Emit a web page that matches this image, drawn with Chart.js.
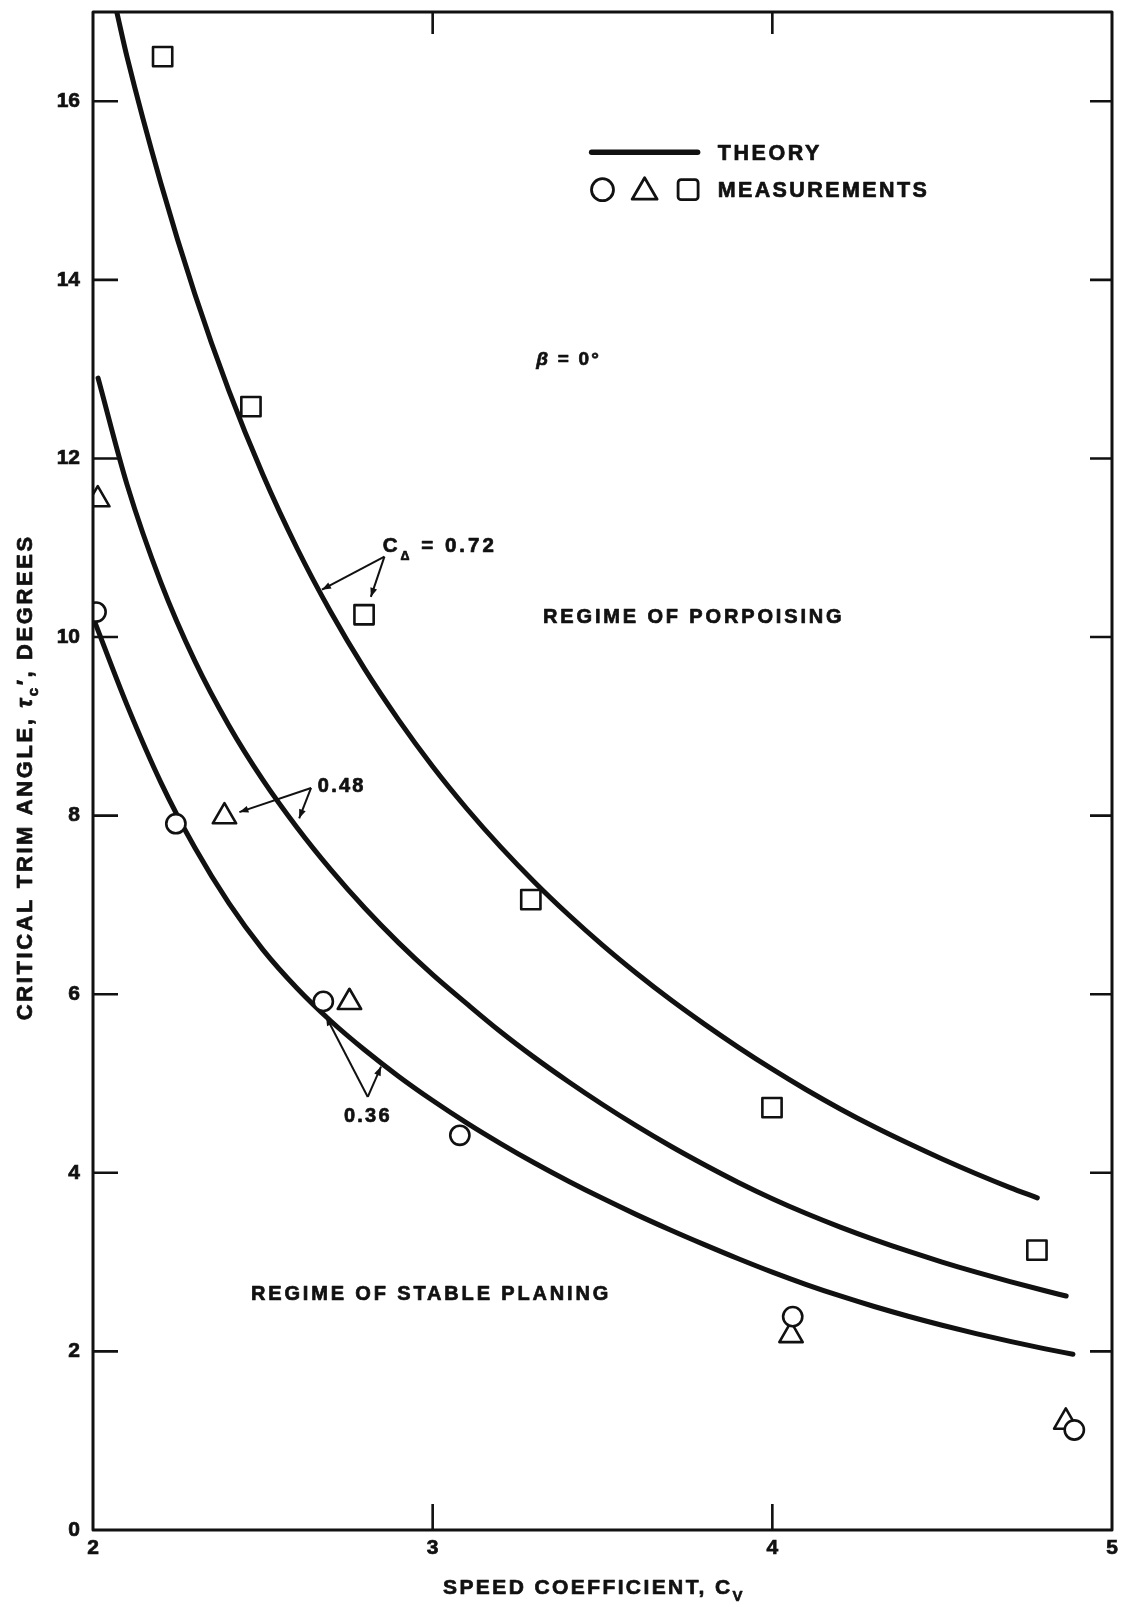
<!DOCTYPE html>
<html>
<head>
<meta charset="utf-8">
<script src="https://cdn.jsdelivr.net/npm/chart.js@4.4.1/dist/chart.umd.min.js"></script>
<style>
  html, body { margin: 0; padding: 0; background: #ffffff; }
  canvas { display: block; }
</style>
</head>
<body>
<canvas id="trimChart" width="1123" height="1607"></canvas>
<script>
// ---- Theory curves: critical trim angle (deg) against speed coefficient C_V ----
const cvTheory072 = [2.07, 2.1, 2.2, 2.3, 2.4, 2.5, 2.6, 2.7, 2.8, 2.9, 3.0, 3.1, 3.2, 3.3, 3.4, 3.5, 3.6, 3.7, 3.8, 3.9, 4.0, 4.1, 4.2, 4.3, 4.4, 4.5, 4.6, 4.7, 4.78];
const tauTheory072 = [17.0, 16.5, 15.08, 13.84, 12.76, 11.82, 11.0, 10.28, 9.64, 9.07, 8.55, 8.08, 7.65, 7.255, 6.89, 6.55, 6.235, 5.94, 5.665, 5.405, 5.16, 4.93, 4.715, 4.515, 4.33, 4.155, 3.99, 3.835, 3.72];

const cvTheory048 = [2.015, 2.1, 2.2, 2.3, 2.4, 2.5, 2.6, 2.7, 2.8, 2.9, 3.0, 3.1, 3.2, 3.3, 3.4, 3.5, 3.6, 3.7, 3.8, 3.9, 4.0, 4.1, 4.2, 4.3, 4.4, 4.5, 4.6, 4.7, 4.8, 4.865];
const tauTheory048 = [12.9, 11.71, 10.61, 9.73, 9.01, 8.4, 7.87, 7.395, 6.965, 6.575, 6.22, 5.895, 5.58, 5.29, 5.02, 4.765, 4.525, 4.3, 4.09, 3.892, 3.71, 3.544, 3.392, 3.252, 3.122, 3.001, 2.888, 2.782, 2.682, 2.62];

const cvTheory036 = [2.0, 2.1, 2.2, 2.3, 2.4, 2.5, 2.6, 2.7, 2.8, 2.9, 3.0, 3.1, 3.2, 3.3, 3.4, 3.5, 3.6, 3.7, 3.8, 3.9, 4.0, 4.1, 4.2, 4.3, 4.4, 4.5, 4.6, 4.7, 4.8, 4.885];
const tauTheory036 = [10.22, 9.24, 8.37, 7.64, 7.02, 6.5, 6.07, 5.7, 5.375, 5.08, 4.81, 4.56, 4.328, 4.11, 3.906, 3.714, 3.532, 3.36, 3.196, 3.038, 2.888, 2.749, 2.621, 2.503, 2.394, 2.293, 2.199, 2.112, 2.031, 1.968];

// ---- Measurements ----
// squares: C_delta = 0.72
const cvSquares = [2.205, 2.465, 2.798, 3.289, 3.999, 4.779];
const tauSquares = [16.5, 12.58, 10.25, 7.06, 4.73, 3.135];
// triangles: C_delta = 0.48
const cvTriangles = [2.014, 2.387, 2.755, 4.055, 4.864];
const tauTriangles = [11.54, 7.99, 5.91, 2.18, 1.21];
// circles: C_delta = 0.36
const cvCircles = [2.009, 2.244, 2.678, 3.08, 4.06, 4.889];
const tauCircles = [10.28, 7.91, 5.92, 4.42, 2.39, 1.12];

// ---- Axes ----
const cvRange = [2, 5];
const tauRange = [0, 17];
const cvStep = 1;
const tauStep = 2;

const INK = '#111111';
const FACE = '"Liberation Sans", Arial, Helvetica, sans-serif';

const toXY = (xs, ys) => xs.map((v, i) => ({ x: v, y: ys[i] }));

function theory(xs, ys) {
  return {
    data: toXY(xs, ys),
    showLine: true,
    borderColor: INK,
    borderWidth: 5,
    borderCapStyle: 'round',
    cubicInterpolationMode: 'monotone',
    pointRadius: 0,
    order: 5
  };
}

function measured(xs, ys, style, radius, order) {
  return {
    data: toXY(xs, ys),
    showLine: false,
    pointStyle: style,
    pointRadius: radius,
    pointBorderWidth: 2.6,
    pointBorderColor: INK,
    pointBackgroundColor: '#ffffff',
    order: order
  };
}

// ---- Text helpers ----
function drawParts(ctx, parts, x, yMid, align, spacing) {
  ctx.save();
  ctx.letterSpacing = (spacing || 0) + 'px';
  ctx.textAlign = 'left';
  ctx.textBaseline = 'alphabetic';
  ctx.lineJoin = 'round';
  let total = 0;
  parts.forEach(p => { ctx.font = p.font; p.w = ctx.measureText(p.text).width; total += p.w; });
  let cx = align === 'center' ? x - total / 2 : x;
  const base = parts[0].size * 0.36;
  parts.forEach(p => {
    ctx.font = p.font;
    ctx.fillStyle = INK;
    ctx.strokeStyle = INK;
    ctx.lineWidth = 0.7;
    ctx.fillText(p.text, cx, yMid + base + (p.dy || 0));
    ctx.strokeText(p.text, cx, yMid + base + (p.dy || 0));
    cx += p.w;
  });
  ctx.restore();
}
const bold = (t, s, dy) => ({ text: t, font: `bold ${s}px ${FACE}`, size: s, dy: dy || 0 });
const boldItalic = (t, s, dy) => ({ text: t, font: `italic bold ${s}px ${FACE}`, size: s, dy: dy || 0 });

function leader(ctx, x0, y0, x1, y1) {
  ctx.beginPath();
  ctx.moveTo(x0, y0);
  ctx.lineTo(x1, y1);
  ctx.stroke();
  const a = Math.atan2(y1 - y0, x1 - x0);
  const L = 9, W = 3.5;
  ctx.beginPath();
  ctx.moveTo(x1, y1);
  ctx.lineTo(x1 - L * Math.cos(a) + W * Math.sin(a), y1 - L * Math.sin(a) - W * Math.cos(a));
  ctx.lineTo(x1 - L * Math.cos(a) - W * Math.sin(a), y1 - L * Math.sin(a) + W * Math.cos(a));
  ctx.closePath();
  ctx.fill();
}

// Labels on the plot, anchored in data units
const labels = [
  { parts: [bold('REGIME OF PORPOISING', 20)], x: 3.325, y: 10.24, sp: 2.85 },
  { parts: [bold('REGIME OF STABLE PLANING', 20)], x: 2.465, y: 2.66, sp: 2.85 },
  { parts: [boldItalic('\u03b2', 19), bold(' = 0\u00b0', 19)], x: 3.305, y: 13.12, sp: 2.2 },
  { parts: [bold('C', 20.5), bold('\u0394', 12.5, 8), bold(' = 0.72', 20.5)], x: 2.853, y: 11.03, sp: 3 },
  { parts: [bold('0.48', 20)], x: 2.662, y: 8.34, sp: 2.2 },
  { parts: [bold('0.36', 20)], x: 2.739, y: 4.65, sp: 2.2 }
];

// Leader lines: common vertex, then the points they mark
const leaders = [
  { from: [2.858, 10.9], to: [[2.674, 10.53], [2.818, 10.45]] },
  { from: [2.642, 8.31], to: [[2.431, 8.04], [2.607, 7.97]] },
  { from: [2.809, 4.85], to: [[2.686, 5.75], [2.848, 5.19]] }
];

// Key block (line + symbols), anchored in data units
const keyBlock = { lineFrom: 3.468, lineTo: 3.78, textX: 3.839, row1: 15.43, row2: 15.01, symbols: [3.5, 3.624, 3.752] };

const framePlugin = {
  id: 'frameAndNotes',
  beforeDatasetsDraw(chart) {
    chart.ctx.lineJoin = 'round';
  },
  afterDatasetsDraw(chart) {
    const { ctx, chartArea: a, scales: { x, y } } = chart;
    ctx.save();
    ctx.strokeStyle = INK;
    ctx.fillStyle = INK;
    ctx.lineCap = 'butt';
    // frame
    ctx.lineWidth = 3;
    ctx.strokeRect(a.left, a.top, a.right - a.left, a.bottom - a.top);
    // inward tick marks on all four sides
    ctx.lineWidth = 2.6;
    y.ticks.forEach(t => {
      if (t.value <= tauRange[0] || t.value >= tauRange[1]) return;
      const py = y.getPixelForValue(t.value);
      ctx.beginPath();
      ctx.moveTo(a.left, py); ctx.lineTo(a.left + 25, py);
      ctx.moveTo(a.right, py); ctx.lineTo(a.right - 22, py);
      ctx.stroke();
    });
    x.ticks.forEach(t => {
      if (t.value <= cvRange[0] || t.value >= cvRange[1]) return;
      const px = x.getPixelForValue(t.value);
      ctx.beginPath();
      ctx.moveTo(px, a.bottom); ctx.lineTo(px, a.bottom - 26);
      ctx.moveTo(px, a.top); ctx.lineTo(px, a.top + 22);
      ctx.stroke();
    });

    // leader lines
    ctx.lineWidth = 2;
    leaders.forEach(l => {
      const vx = x.getPixelForValue(l.from[0]), vy = y.getPixelForValue(l.from[1]);
      l.to.forEach(p => leader(ctx, vx, vy, x.getPixelForValue(p[0]), y.getPixelForValue(p[1])));
    });

    // labels
    labels.forEach(l => drawParts(ctx, l.parts, x.getPixelForValue(l.x), y.getPixelForValue(l.y), 'left', l.sp));

    // key
    const r1 = y.getPixelForValue(keyBlock.row1), r2 = y.getPixelForValue(keyBlock.row2);
    ctx.lineWidth = 5.5;
    ctx.lineCap = 'round';
    ctx.beginPath();
    ctx.moveTo(x.getPixelForValue(keyBlock.lineFrom), r1);
    ctx.lineTo(x.getPixelForValue(keyBlock.lineTo), r1);
    ctx.stroke();
    ctx.lineWidth = 2.8;
    ctx.lineJoin = 'round';
    const [c1, c2, c3] = keyBlock.symbols.map(v => x.getPixelForValue(v));
    ctx.beginPath(); ctx.arc(c1, r2, 11, 0, Math.PI * 2); ctx.stroke();
    ctx.beginPath();
    ctx.moveTo(c2, r2 - 12); ctx.lineTo(c2 + 12.5, r2 + 9.5); ctx.lineTo(c2 - 12.5, r2 + 9.5); ctx.closePath(); ctx.stroke();
    ctx.beginPath();
    if (ctx.roundRect) ctx.roundRect(c3 - 10, r2 - 10, 20, 20, 3); else ctx.rect(c3 - 10, r2 - 10, 20, 20);
    ctx.stroke();
    const kx = x.getPixelForValue(keyBlock.textX);
    drawParts(ctx, [bold('THEORY', 21.5)], kx, r1, 'left', 2.6);
    drawParts(ctx, [bold('MEASUREMENTS', 21.5)], kx, r2, 'left', 2.4);

    // axis titles
    drawParts(ctx, [bold('SPEED COEFFICIENT, C', 21), bold('V', 15, 7)],
      x.getPixelForValue(3.475), a.bottom + 56.7, 'center', 2.4);
    ctx.save();
    ctx.translate(24, y.getPixelForValue(8.43));
    ctx.rotate(-Math.PI / 2);
    drawParts(ctx, [bold('CRITICAL TRIM ANGLE, ', 22), boldItalic('\u03c4', 22), bold('c', 15, 6), bold('\u2032, DEGREES', 22)],
      0, 0, 'center', 2.6);
    ctx.restore();
    ctx.restore();
  }
};

const tickFont = { family: FACE, size: 21, weight: 'bold' };

new Chart(document.getElementById('trimChart'), {
  type: 'scatter',
  data: {
    datasets: [
      theory(cvTheory072, tauTheory072),
      theory(cvTheory048, tauTheory048),
      theory(cvTheory036, tauTheory036),
      measured(cvSquares, tauSquares, 'rect', 13.6, 3),
      measured(cvTriangles, tauTriangles, 'triangle', 13.5, 2),
      measured(cvCircles, tauCircles, 'circle', 9.6, 1)
    ]
  },
  options: {
    responsive: false,
    animation: false,
    devicePixelRatio: 1,
    layout: { autoPadding: false, padding: { top: 12, right: 11, left: 0, bottom: 0 } },
    plugins: { legend: { display: false }, tooltip: { enabled: false } },
    scales: {
      x: {
        type: 'linear',
        min: cvRange[0], max: cvRange[1],
        grid: { display: false, drawTicks: false },
        border: { display: false },
        ticks: { stepSize: cvStep, padding: 6, color: INK, font: tickFont, textStrokeColor: INK, textStrokeWidth: 0.7 },
        afterFit: s => { s.height = 77; s.paddingLeft = 0; s.paddingRight = 0; }
      },
      y: {
        type: 'linear',
        min: tauRange[0], max: tauRange[1],
        grid: { display: false, drawTicks: false },
        border: { display: false },
        ticks: { stepSize: tauStep, includeBounds: false, padding: 13, color: INK, font: tickFont, textStrokeColor: INK, textStrokeWidth: 0.7 },
        afterFit: s => { s.width = 93; s.paddingTop = 0; s.paddingBottom = 0; }
      }
    }
  },
  plugins: [framePlugin]
});
</script>
</body>
</html>
